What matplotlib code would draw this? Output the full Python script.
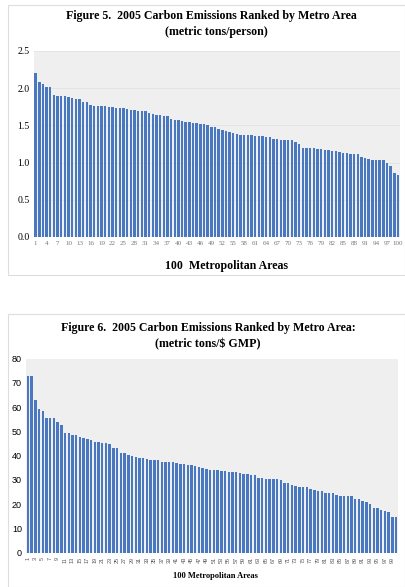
import numpy as np
import matplotlib
matplotlib.use('Agg')
import matplotlib.pyplot as plt
from matplotlib.patches import Rectangle

# Figure 5 values (metric tons/person), ranked
per_person = [2.20, 2.08, 2.05, 2.02, 2.01, 1.91, 1.90, 1.89, 1.89, 1.885,
              1.87, 1.86, 1.85, 1.82, 1.82, 1.78, 1.76, 1.76, 1.76, 1.755,
              1.745, 1.745, 1.74, 1.735, 1.73, 1.72, 1.71, 1.705, 1.70, 1.69,
              1.69, 1.66, 1.65, 1.64, 1.64, 1.63, 1.63, 1.58, 1.57, 1.57,
              1.565, 1.55, 1.545, 1.535, 1.53, 1.525, 1.52, 1.51, 1.48, 1.48,
              1.445, 1.435, 1.42, 1.41, 1.40, 1.38, 1.37, 1.37, 1.37, 1.365,
              1.36, 1.355, 1.355, 1.35, 1.345, 1.32, 1.315, 1.31, 1.31, 1.31,
              1.30, 1.275, 1.255, 1.20, 1.20, 1.195, 1.19, 1.185, 1.18, 1.17,
              1.165, 1.16, 1.155, 1.14, 1.13, 1.13, 1.12, 1.115, 1.11, 1.075,
              1.06, 1.05, 1.035, 1.035, 1.03, 1.03, 0.99, 0.95, 0.86, 0.83]

# Figure 6 values (metric tons/$ GMP), ranked
per_gmp = [72.9, 72.9, 62.8, 59.2, 58.4, 55.7, 55.4, 55.4, 54.0, 52.8,
           49.2, 49.2, 48.7, 48.4, 47.8, 47.3, 46.7, 46.6, 45.8, 45.6,
           45.4, 45.2, 44.7, 43.2, 43.2, 41.1, 41.0, 40.3, 39.7, 39.3,
           39.2, 38.9, 38.6, 38.4, 38.2, 38.1, 37.5, 37.4, 37.4, 37.3,
           37.0, 36.7, 36.4, 36.3, 36.0, 35.7, 35.3, 34.8, 34.4, 34.2,
           34.2, 34.1, 33.8, 33.5, 33.4, 33.4, 33.3, 32.7, 32.6, 32.4,
           32.2, 31.9, 30.8, 30.7, 30.5, 30.5, 30.4, 30.2, 30.1, 28.9,
           28.7, 28.0, 27.6, 27.1, 27.1, 26.9, 26.1, 25.8, 25.4, 25.4,
           24.7, 24.7, 24.6, 23.6, 23.5, 23.5, 23.4, 23.2, 22.3, 22.0,
           21.3, 20.9, 20.1, 18.6, 18.6, 17.6, 17.3, 16.6, 14.7, 14.7]

ranks = np.arange(1, 101)
top_yticks = [0.0, 0.5, 1.0, 1.5, 2.0, 2.5]
bot_yticks = [0, 10, 20, 30, 40, 50, 60, 70, 80]

W, H = 405, 587
serif = 'Liberation Serif'
sans = 'Liberation Sans'
bar_color = '#4a78c0'
bg = '#efefef'

fig = plt.figure(figsize=(W / 100, H / 100), dpi=100)

# frames around each chart
fig.patches.append(Rectangle((8 / W, 1 - 275 / H), 397 / W, 270 / H,
                             transform=fig.transFigure, fill=False,
                             edgecolor='#dddddd', linewidth=0.8))
fig.patches.append(Rectangle((8 / W, 0), 397 / W, (587 - 314) / H,
                             transform=fig.transFigure, fill=False,
                             edgecolor='#dddddd', linewidth=0.8))

# ---- Figure 5 ----
ax1 = fig.add_axes([34 / W, 1 - 237 / H, 366 / W, 186 / H])
ax1.set_facecolor(bg)
ax1.bar(ranks, per_person, width=0.66, color=bar_color, zorder=2)
ax1.set_xlim(0.55, 100.55)
ax1.set_ylim(0, 2.5)
ax1.set_yticks(top_yticks)
ax1.set_yticklabels(['%.1f' % v for v in top_yticks], fontfamily=serif,
                    fontsize=7)
ax1.set_xticks(ranks[::3])
ax1.set_xticklabels([str(r) for r in ranks[::3]], fontfamily=serif,
                    fontsize=5, color='#777777')
ax1.grid(axis='y', color='#e2e2e2', linewidth=0.6, zorder=0)
ax1.tick_params(length=0, pad=3)
for s in ax1.spines.values():
    s.set_visible(False)

fig.text(211 / W, 1 - 16 / H, 'Figure 5.  2005 Carbon Emissions Ranked by Metro Area',
         ha='center', va='center', fontfamily=serif, fontweight='bold', fontsize=8.6)
fig.text(216 / W, 1 - 32 / H, '(metric tons/person)',
         ha='center', va='center', fontfamily=serif, fontweight='bold', fontsize=8.6)
fig.text(227 / W, 1 - 266 / H, '100  Metropolitan Areas',
         ha='center', va='center', fontfamily=serif, fontweight='bold', fontsize=8.6)

# ---- Figure 6 ----
ax2 = fig.add_axes([26 / W, 1 - 552.7 / H, 372 / W, 194 / H])
ax2.set_facecolor(bg)
ax2.bar(ranks, per_gmp, width=0.66, color=bar_color, zorder=2)
ax2.set_xlim(0.5, 100.5)
ax2.set_ylim(0, 80)
ax2.set_yticks(bot_yticks)
ax2.set_yticklabels([str(v) for v in bot_yticks], fontfamily=sans, fontsize=6.5)
ax2.set_xticks(ranks[::2])
ax2.set_xticklabels([str(r) for r in ranks[::2]], fontfamily=sans,
                    fontsize=4, rotation=90, color='#555555')
ax2.tick_params(length=0, pad=3)
for s in ax2.spines.values():
    s.set_visible(False)

fig.text(208 / W, 1 - 328 / H, 'Figure 6.  2005 Carbon Emissions Ranked by Metro Area:',
         ha='center', va='center', fontfamily=serif, fontweight='bold', fontsize=8.6)
fig.text(208 / W, 1 - 344 / H, '(metric tons/$ GMP)',
         ha='center', va='center', fontfamily=serif, fontweight='bold', fontsize=8.6)
fig.text(215 / W, 1 - 576 / H, '100 Metropolitan Areas',
         ha='center', va='center', fontfamily=serif, fontweight='bold', fontsize=6)

fig.savefig('out.png', dpi=100)
